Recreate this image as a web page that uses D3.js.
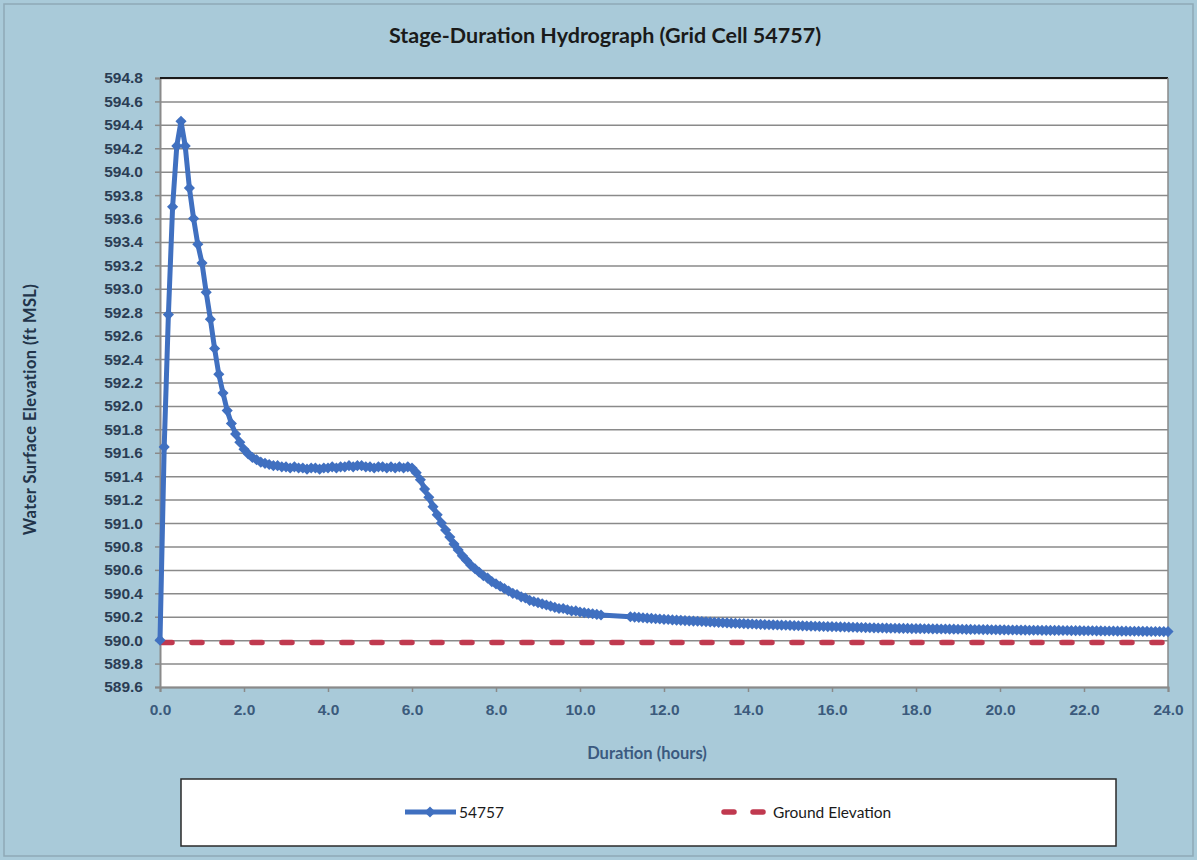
<!DOCTYPE html>
<html>
<head>
<meta charset="utf-8">
<script src="https://cdn.jsdelivr.net/npm/d3@7"></script>
<style>
  body { margin: 0; background: #a9cad9; }
  svg { display: block; }
</style>
</head>
<body>
<div id="chart-area"></div>
<script>
// Stage-duration hydrograph, grid cell 54757

var hours = [
    0.0, 0.1, 0.2, 0.3, 0.4, 0.5, 0.6, 0.7, 0.8, 0.9,
    1.0, 1.1, 1.2, 1.3, 1.4, 1.5, 1.6, 1.7, 1.8, 1.9,
    2.0, 2.1, 2.2, 2.3, 2.4, 2.5, 2.6, 2.7, 2.8, 2.9,
    3.0, 3.1, 3.2, 3.3, 3.4, 3.5, 3.6, 3.7, 3.8, 3.9,
    4.0, 4.1, 4.2, 4.3, 4.4, 4.5, 4.6, 4.7, 4.8, 4.9,
    5.0, 5.1, 5.2, 5.3, 5.4, 5.5, 5.6, 5.7, 5.8, 5.9,
    6.0, 6.1, 6.2, 6.3, 6.4, 6.5, 6.6, 6.7, 6.8, 6.9,
    7.0, 7.1, 7.2, 7.3, 7.4, 7.5, 7.6, 7.7, 7.8, 7.9,
    8.0, 8.1, 8.2, 8.3, 8.4, 8.5, 8.6, 8.7, 8.8, 8.9,
    9.0, 9.1, 9.2, 9.3, 9.4, 9.5, 9.6, 9.7, 9.8, 9.9,
    10.0, 10.1, 10.2, 10.3, 10.4, 10.5,
    11.2, 11.3, 11.4, 11.5, 11.6, 11.7, 11.8, 11.9,
    12.0, 12.1, 12.2, 12.3, 12.4, 12.5, 12.6, 12.7, 12.8, 12.9,
    13.0, 13.1, 13.2, 13.3, 13.4, 13.5, 13.6, 13.7, 13.8, 13.9,
    14.0, 14.1, 14.2, 14.3, 14.4, 14.5, 14.6, 14.7, 14.8, 14.9,
    15.0, 15.1, 15.2, 15.3, 15.4, 15.5, 15.6, 15.7, 15.8, 15.9,
    16.0, 16.1, 16.2, 16.3, 16.4, 16.5, 16.6, 16.7, 16.8, 16.9,
    17.0, 17.1, 17.2, 17.3, 17.4, 17.5, 17.6, 17.7, 17.8, 17.9,
    18.0, 18.1, 18.2, 18.3, 18.4, 18.5, 18.6, 18.7, 18.8, 18.9,
    19.0, 19.1, 19.2, 19.3, 19.4, 19.5, 19.6, 19.7, 19.8, 19.9,
    20.0, 20.1, 20.2, 20.3, 20.4, 20.5, 20.6, 20.7, 20.8, 20.9,
    21.0, 21.1, 21.2, 21.3, 21.4, 21.5, 21.6, 21.7, 21.8, 21.9,
    22.0, 22.1, 22.2, 22.3, 22.4, 22.5, 22.6, 22.7, 22.8, 22.9,
    23.0, 23.1, 23.2, 23.3, 23.4, 23.5, 23.6, 23.7, 23.8, 23.9,
    24.0
];

var stage = [
    590.00, 591.65, 592.78, 593.70, 594.22, 594.43, 594.22, 593.86, 593.60, 593.38,
    593.22, 592.97, 592.74, 592.49, 592.27, 592.11, 591.96, 591.85, 591.76, 591.69,
    591.63, 591.59, 591.56, 591.54, 591.52, 591.51, 591.50, 591.49, 591.49, 591.48,
    591.48, 591.47, 591.48, 591.47, 591.47, 591.46, 591.47, 591.47, 591.46, 591.47,
    591.47, 591.48, 591.47, 591.48, 591.48, 591.49, 591.48, 591.49, 591.49, 591.48,
    591.48, 591.47, 591.48, 591.48, 591.47, 591.48, 591.47, 591.48, 591.47, 591.48,
    591.47, 591.43, 591.37, 591.29, 591.22, 591.14, 591.07, 591.00, 590.94, 590.88,
    590.82, 590.77, 590.72, 590.68, 590.64, 590.61, 590.58, 590.55, 590.53, 590.50,
    590.48, 590.46, 590.44, 590.42, 590.40, 590.39, 590.37, 590.36, 590.34, 590.33,
    590.32, 590.31, 590.30, 590.29, 590.28, 590.27, 590.27, 590.26, 590.25, 590.25,
    590.240, 590.235, 590.230, 590.225, 590.220, 590.215,
    590.200, 590.197, 590.194, 590.191, 590.188, 590.186, 590.183, 590.181,
    590.178, 590.176, 590.173, 590.171, 590.169, 590.167, 590.165, 590.163, 590.161, 590.159,
    590.157, 590.155, 590.153, 590.151, 590.149, 590.147, 590.145, 590.144, 590.142, 590.141,
    590.139, 590.138, 590.136, 590.135, 590.133, 590.132, 590.131, 590.129, 590.128, 590.127,
    590.126, 590.124, 590.123, 590.122, 590.121, 590.120, 590.119, 590.118, 590.117, 590.116,
    590.115, 590.114, 590.113, 590.112, 590.111, 590.110, 590.109, 590.108, 590.107, 590.106,
    590.105, 590.104, 590.104, 590.103, 590.102, 590.102, 590.101, 590.100, 590.100, 590.099,
    590.099, 590.098, 590.097, 590.097, 590.096, 590.096, 590.095, 590.095, 590.094, 590.094,
    590.093, 590.093, 590.092, 590.092, 590.091, 590.091, 590.090, 590.090, 590.089, 590.089,
    590.088, 590.088, 590.087, 590.087, 590.087, 590.086, 590.086, 590.085, 590.085, 590.085,
    590.084, 590.084, 590.083, 590.083, 590.083, 590.082, 590.082, 590.081, 590.081, 590.081,
    590.080, 590.080, 590.080, 590.079, 590.079, 590.078, 590.078, 590.078, 590.077, 590.077,
    590.077, 590.076, 590.076, 590.076, 590.075, 590.075, 590.074, 590.074, 590.074, 590.073,
    590.073
];

var groundElevation = 589.98;
var xTicks = [0, 2, 4, 6, 8, 10, 12, 14, 16, 18, 20, 22, 24];
var yTicks = d3.range(0, 27).map(function(i) { return +(589.6 + i * 0.2).toFixed(1); });

var W = 1197, H = 860;
var margin = { left: 160, right: 29, top: 78, bottom: 173 };
var width = W - margin.left - margin.right,
    height = H - margin.top - margin.bottom;

var svg = d3.select("#chart-area")
    .append("svg")
        .attr("width", W)
        .attr("height", H)
        .style("font-family", "Lato, 'Open Sans', sans-serif");

// Chart background
svg.append("rect")
    .attr("x", 4).attr("y", 4)
    .attr("width", W - 8).attr("height", H - 8)
    .attr("fill", "#a9cad9")
    .attr("stroke", "#8fa9b6")
    .attr("stroke-width", 1.5);

var g = svg.append("g")
    .attr("transform", "translate(" + margin.left + "," + margin.top + ")");

// Scales
var x = d3.scaleLinear().domain([0, 24]).range([0, width]);
var y = d3.scaleLinear().domain([589.6, 594.8]).range([height, 0]);

// Plot area
g.append("rect")
    .attr("width", width)
    .attr("height", height)
    .attr("fill", "#ffffff");

// Gridlines
g.append("g")
    .attr("class", "grid")
    .call(d3.axisLeft(y).tickValues(yTicks).tickSize(-width).tickFormat(""))
    .call(function(s) {
        s.select(".domain").remove();
        s.selectAll("line").attr("stroke", "#8a8a8a").attr("stroke-width", 1.5);
    });

// Y axis
g.append("g")
    .call(d3.axisLeft(y).tickValues(yTicks).tickSize(5).tickPadding(12)
        .tickFormat(d3.format(".1f")))
    .call(function(s) {
        s.select(".domain").attr("stroke", "#8a8a8a").attr("stroke-width", 2);
        s.selectAll("line").attr("stroke", "#8a8a8a").attr("stroke-width", 1.5);
        s.selectAll("text")
            .attr("font-size", "15.5px")
            .attr("font-weight", "bold")
            .attr("fill", "#2b3d54");
    });

// X axis
g.append("g")
    .attr("transform", "translate(0," + height + ")")
    .call(d3.axisBottom(x).tickValues(xTicks).tickSize(5).tickPadding(12)
        .tickFormat(d3.format(".1f")))
    .call(function(s) {
        s.select(".domain").attr("stroke", "#8a8a8a").attr("stroke-width", 2);
        s.selectAll("line").attr("stroke", "#8a8a8a").attr("stroke-width", 1.5);
        s.selectAll("text")
            .attr("font-size", "15.5px")
            .attr("font-weight", "bold")
            .attr("fill", "#3b5a7c");
    });

// Top border and right edge
g.append("line")
    .attr("x1", 0).attr("x2", width).attr("y1", 0).attr("y2", 0)
    .attr("stroke", "#1a1a1a").attr("stroke-width", 2);
g.append("line")
    .attr("x1", width).attr("x2", width).attr("y1", 0).attr("y2", height)
    .attr("stroke", "#8a8a8a").attr("stroke-width", 1.5);

// Ground elevation line
g.append("line")
    .attr("x1", x(0)).attr("x2", x(24))
    .attr("y1", y(groundElevation)).attr("y2", y(groundElevation))
    .attr("stroke", "#c0394f")
    .attr("stroke-width", 5.5)
    .attr("stroke-linecap", "round")
    .attr("stroke-dasharray", "10,20")
    .attr("stroke-dashoffset", -2);

// Stage series
var data = hours.map(function(h, i) { return { h: h, v: stage[i] }; });

var line = d3.line()
    .x(function(d) { return x(d.h); })
    .y(function(d) { return y(d.v); });

g.append("path")
    .datum(data)
    .attr("fill", "none")
    .attr("stroke", "#4070c0")
    .attr("stroke-width", 5)
    .attr("stroke-linejoin", "round")
    .attr("d", line);

var diamond = d3.symbol().type(d3.symbolSquare).size(62);

g.selectAll(".pt")
    .data(data)
    .enter()
    .append("path")
        .attr("class", "pt")
        .attr("d", diamond)
        .attr("transform", function(d) {
            return "translate(" + x(d.h) + "," + y(d.v) + ") rotate(45)";
        })
        .attr("fill", "#4070c0");

// Title
svg.append("text")
    .attr("x", 605)
    .attr("y", 43)
    .attr("text-anchor", "middle")
    .attr("font-size", "21.5px")
    .attr("font-weight", "bold")
    .attr("fill", "#1a1a1a")
    .text("Stage-Duration Hydrograph (Grid Cell 54757)");

// Y label
svg.append("text")
    .attr("transform", "translate(36," + (margin.top + height / 2 + 27) + ") rotate(-90)")
    .attr("text-anchor", "middle")
    .attr("font-size", "16.5px")
    .attr("font-weight", "bold")
    .attr("letter-spacing", "0.4px")
    .attr("fill", "#22344a")
    .text("Water Surface Elevation  (ft MSL)");

// X label
svg.append("text")
    .attr("x", 647)
    .attr("y", 759)
    .attr("text-anchor", "middle")
    .attr("font-size", "16.5px")
    .attr("font-weight", "bold")
    .attr("fill", "#3b5a80")
    .text("Duration (hours)");

// Legend
var legend = svg.append("g");
legend.append("rect")
    .attr("x", 181).attr("y", 779)
    .attr("width", 935).attr("height", 67)
    .attr("fill", "#ffffff")
    .attr("stroke", "#2a2a2a")
    .attr("stroke-width", 1.5);

legend.append("line")
    .attr("x1", 405).attr("x2", 456).attr("y1", 812).attr("y2", 812)
    .attr("stroke", "#4070c0").attr("stroke-width", 5);
legend.append("path")
    .attr("d", diamond)
    .attr("transform", "translate(430,812) rotate(45)")
    .attr("fill", "#4070c0");
legend.append("text")
    .attr("x", 459).attr("y", 818)
    .attr("font-size", "15.5px")
    .attr("fill", "#1a1a1a")
    .text("54757");

legend.append("line")
    .attr("x1", 724).attr("x2", 768).attr("y1", 812).attr("y2", 812)
    .attr("stroke", "#c0394f")
    .attr("stroke-width", 5.5)
    .attr("stroke-linecap", "round")
    .attr("stroke-dasharray", "10,19");
legend.append("text")
    .attr("x", 773).attr("y", 818)
    .attr("font-size", "15.5px")
    .attr("fill", "#1a1a1a")
    .text("Ground Elevation");
</script>
</body>
</html>
